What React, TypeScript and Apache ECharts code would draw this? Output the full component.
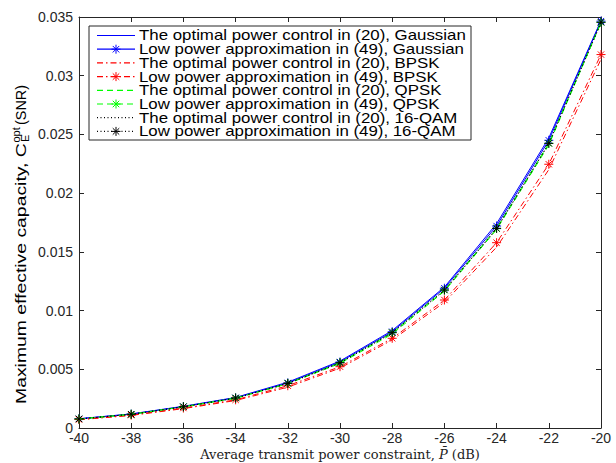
import React, { useEffect, useRef } from "react";
import * as echarts from "echarts";

// Transmit power constraint (dB)
const powerDb = [-40, -38, -36, -34, -32, -30, -28, -26, -24, -22, -20];

// Maximum effective capacity for each scheme
const gaussOpt = [0.00079, 0.0012, 0.00185, 0.0026, 0.0039, 0.0057, 0.0083, 0.0120, 0.0174, 0.0247, 0.0347];
const gaussApprox = [0.00078, 0.00118, 0.00182, 0.00257, 0.00384, 0.00562, 0.0082, 0.0119, 0.0172, 0.0245, 0.03465];
const bpskOpt = [0.0007, 0.00107, 0.00165, 0.00234, 0.00348, 0.0051, 0.0075, 0.0107, 0.0154, 0.0220, 0.0314];
const bpskApprox = [0.00072, 0.0011, 0.0017, 0.0024, 0.0036, 0.00522, 0.00764, 0.0109, 0.01578, 0.02246, 0.0318];
const qpskOpt = [0.00077, 0.00116, 0.0018, 0.00253, 0.00377, 0.0055, 0.0080, 0.01165, 0.0169, 0.0241, 0.0345];
const qpskApprox = [0.00077, 0.00117, 0.00181, 0.00255, 0.0038, 0.00556, 0.00812, 0.01175, 0.0170, 0.02424, 0.03455];
const qamOpt = [0.00077, 0.00116, 0.0018, 0.00254, 0.00378, 0.00553, 0.0081, 0.0117, 0.01695, 0.0242, 0.0345];
const qamApprox = [0.00077, 0.00117, 0.00181, 0.00255, 0.0038, 0.00556, 0.00812, 0.01175, 0.0170, 0.02424, 0.03455];

const yTicks = ["0", "0.005", "0.01", "0.015", "0.02", "0.025", "0.03", "0.035"];

const legendNames = [
  "The optimal power control in (20), Gaussian",
  "Low power approximation in (49), Gaussian",
  "The optimal power control in (20), BPSK",
  "Low power approximation in (49), BPSK",
  "The optimal power control in (20), QPSK",
  "Low power approximation in (49), QPSK",
  "The optimal power control in (20), 16-QAM",
  "Low power approximation in (49), 16-QAM",
];

const BLUE = "#0000ff";
const RED = "#ff0000";
const GREEN = "#00ff00";
const BLACK = "#000000";
const AXIS = "#262626";

const DASH_DOT = [6, 3, 1.5, 3];
const DASHED = [6, 4];
const DOTTED = [1, 2.5];

const ASTERISK = "path://M5,0L5,10M0,5L10,5M1.5,1.5L8.5,8.5M1.5,8.5L8.5,1.5";

const styles: { color: string; dash: number[] | null; marker: boolean }[] = [
  { color: BLUE, dash: null, marker: false },
  { color: BLUE, dash: null, marker: true },
  { color: RED, dash: DASH_DOT, marker: false },
  { color: RED, dash: DASH_DOT, marker: true },
  { color: GREEN, dash: DASHED, marker: false },
  { color: GREEN, dash: DASHED, marker: true },
  { color: BLACK, dash: DOTTED, marker: false },
  { color: BLACK, dash: DOTTED, marker: true },
];

const seriesValues = [gaussOpt, gaussApprox, bpskOpt, bpskApprox, qpskOpt, qpskApprox, qamOpt, qamApprox];

const SANS = "'Liberation Sans', Arial, Helvetica, sans-serif";
const SERIF = "'DejaVu Serif', 'Liberation Serif', serif";

function measure(text: string, font: string): number {
  const ctx = document.createElement("canvas").getContext("2d");
  if (!ctx) return text.length * 7;
  ctx.font = font;
  return ctx.measureText(text).width;
}

function asteriskLines(cx: number, cy: number, r: number, color: string) {
  const d = r * 0.72;
  const segs = [
    [cx, cy - r, cx, cy + r],
    [cx - r, cy, cx + r, cy],
    [cx - d, cy - d, cx + d, cy + d],
    [cx - d, cy + d, cx + d, cy - d],
  ];
  return segs.map((s) => ({
    type: "line",
    shape: { x1: s[0], y1: s[1], x2: s[2], y2: s[3] },
    style: { stroke: color, lineWidth: 1 },
    silent: true,
  }));
}

export default function App() {
  const ref = useRef<HTMLDivElement>(null);

  useEffect(() => {
    if (!ref.current) return;
    const chart = echarts.init(ref.current, undefined, { renderer: "svg" });

    const left = 79;
    const right = 601;
    const top = 17;
    const bottom = 428;

    const series = seriesValues.map((vals, i) => {
      const st = styles[i];
      return {
        name: legendNames[i],
        type: "line",
        data: powerDb.map((x, k) => [x, vals[k]]),
        symbol: st.marker ? ASTERISK : "none",
        symbolSize: 9,
        showSymbol: st.marker,
        lineStyle: { color: st.color, width: 1, type: st.dash ?? "solid" },
        itemStyle: { color: st.color, borderColor: st.color, borderWidth: 1 },
        emphasis: { disabled: true },
        z: 2 + i,
      };
    });

    // Legend box, sized to its widest entry
    const legendFont = `14px ${SANS}`;
    const textX = 139;
    const textEnd = 466;
    const widest = Math.max(...legendNames.map((n) => measure(n, legendFont)));
    const stretch = (textEnd - textX) / widest;
    const lgX = 89;
    const lgY = 26;
    const lgW = 382;
    const lgH = 114;
    const rowH = 13.7;
    const legendEls: any[] = [
      {
        type: "rect",
        shape: { x: lgX, y: lgY, width: lgW, height: lgH },
        style: { fill: "#ffffff", stroke: AXIS, lineWidth: 1 },
        silent: true,
        z: 100,
      },
    ];
    styles.forEach((st, i) => {
      const cy = lgY + 9.5 + rowH * i;
      const lineStyle: any = { stroke: st.color, lineWidth: 1.2 };
      if (st.dash) lineStyle.lineDash = st.dash;
      legendEls.push({
        type: "line",
        shape: { x1: 97, y1: cy, x2: 135, y2: cy },
        style: lineStyle,
        silent: true,
        z: 101,
      });
      if (st.marker) {
        asteriskLines(116, cy, 4.5, st.color).forEach((el) =>
          legendEls.push({ ...el, z: 102 })
        );
      }
      legendEls.push({
        type: "text",
        x: textX,
        y: cy,
        scaleX: stretch,
        style: {
          text: legendNames[i],
          font: legendFont,
          fill: BLACK,
          textVerticalAlign: "middle",
        },
        silent: true,
        z: 101,
      });
    });

    // Rotated y-axis title with stacked super/subscript
    const mainFont = `14px ${SANS}`;
    const smallFont = `10px ${SANS}`;
    const mainText = "Maximum effective capacity, C";
    const yStart = 404;
    const cEnd = 143;
    const mainScale = (yStart - cEnd) / measure(mainText, mainFont);
    const snrStart = 125;
    const snrScale = 40 / measure("(SNR)", mainFont);
    const yTitle: any[] = [
      {
        type: "text",
        x: 21,
        y: yStart,
        rotation: Math.PI / 2,
        scaleX: mainScale,
        style: { text: mainText, font: mainFont, fill: BLACK, textAlign: "left", textVerticalAlign: "middle" },
        silent: true,
      },
      {
        type: "text",
        x: 16,
        y: cEnd - 0.5,
        rotation: Math.PI / 2,
        scaleX: 1.1,
        style: { text: "opt", font: smallFont, fill: BLACK, textAlign: "left", textVerticalAlign: "middle" },
        silent: true,
      },
      {
        type: "text",
        x: 25,
        y: cEnd - 1,
        rotation: Math.PI / 2,
        scaleX: 1.1,
        style: { text: "E", font: smallFont, fill: BLACK, textAlign: "left", textVerticalAlign: "middle" },
        silent: true,
      },
      {
        type: "text",
        x: 21,
        y: snrStart,
        rotation: Math.PI / 2,
        scaleX: snrScale,
        style: { text: "(SNR)", font: mainFont, fill: BLACK, textAlign: "left", textVerticalAlign: "middle" },
        silent: true,
      },
    ];

    const xTitle = {
      type: "text",
      x: 340,
      y: 454,
      style: {
        text: "Average transmit power constraint, {i|P\u0304} (dB)",
        font: `13px ${SERIF}`,
        fill: "#222222",
        textAlign: "center",
        textVerticalAlign: "middle",
        rich: {
          i: { fontStyle: "italic", fontSize: 13, fontFamily: SERIF, fill: "#222222" },
        },
      },
      silent: true,
    };

    const axisCommon = {
      type: "value",
      axisLine: { show: true, onZero: false, lineStyle: { color: AXIS, width: 1 } },
      axisTick: { show: true, inside: true, length: 5, lineStyle: { color: AXIS, width: 1 } },
      splitLine: { show: false },
    };

    chart.setOption({
      animation: false,
      backgroundColor: "#ffffff",
      grid: { left, top, width: right - left, height: bottom - top, containLabel: false },
      xAxis: [
        {
          ...axisCommon,
          position: "bottom",
          min: -40,
          max: -20,
          interval: 2,
          axisLabel: {
            show: true,
            margin: 3,
            color: AXIS,
            fontSize: 14,
            lineHeight: 14,
            fontFamily: SANS,
            formatter: (v: number) => String(v),
          },
        },
        {
          ...axisCommon,
          position: "top",
          min: -40,
          max: -20,
          interval: 2,
          axisLabel: { show: false },
        },
      ],
      yAxis: [
        {
          ...axisCommon,
          position: "left",
          min: 0,
          max: 0.035,
          interval: 0.005,
          axisLabel: {
            show: true,
            margin: 6,
            color: AXIS,
            fontSize: 14,
            lineHeight: 12,
            fontFamily: SANS,
            formatter: (v: number) => yTicks[Math.round(v / 0.005)] ?? "",
          },
        },
        {
          ...axisCommon,
          position: "right",
          min: 0,
          max: 0.035,
          interval: 0.005,
          axisLabel: { show: false },
        },
      ],
      series,
      graphic: [...legendEls, ...yTitle, xTitle],
    });

    return () => chart.dispose();
  }, []);

  return (
    <div
      ref={ref}
      style={{ position: "fixed", left: 0, top: 0, width: 616, height: 463 }}
    />
  );
}
